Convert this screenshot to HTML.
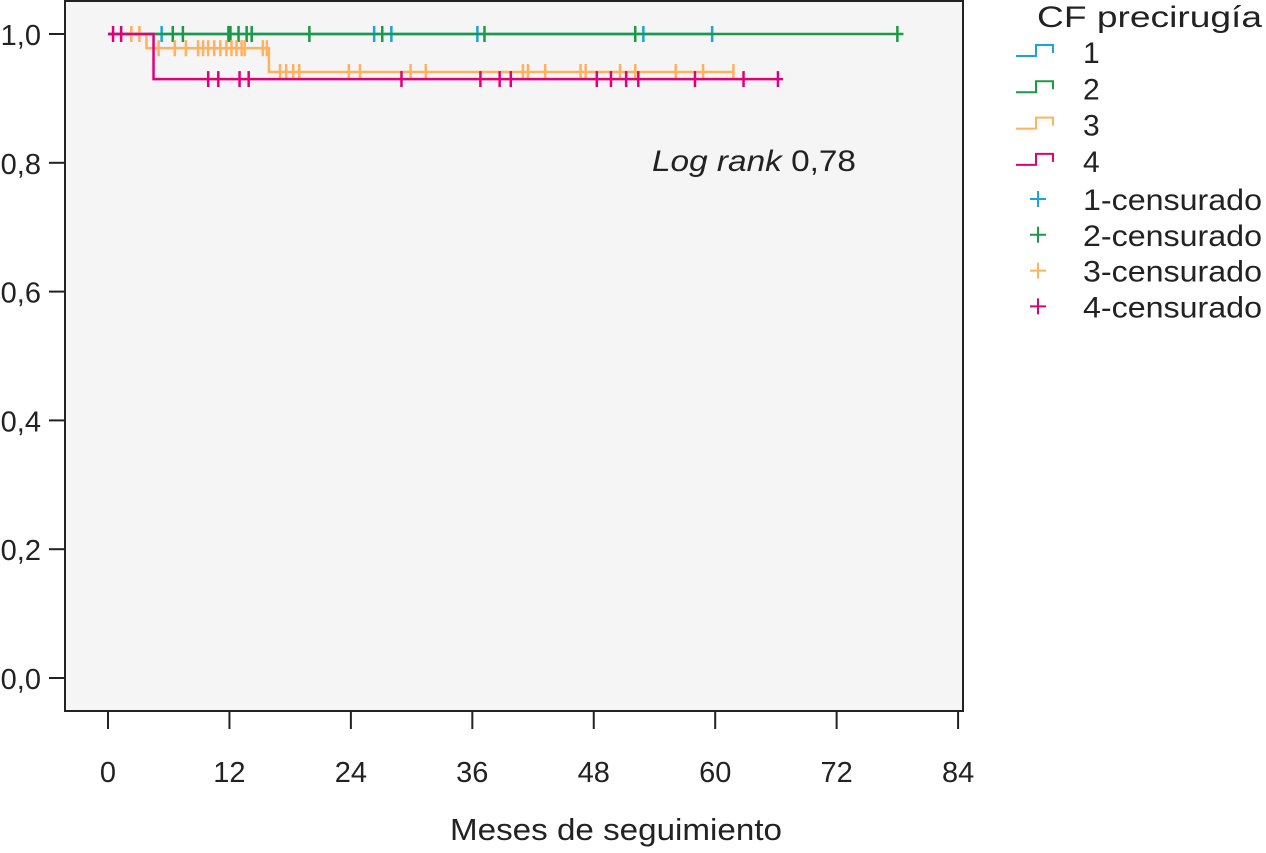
<!DOCTYPE html>
<html><head><meta charset="utf-8"><style>
body{margin:0;background:#fff;font-family:"Liberation Sans",sans-serif;}
svg text{font-family:"Liberation Sans",sans-serif;fill:#222;}
</style></head><body>
<svg id="c" width="1266" height="848">
<rect x="65" y="1" width="898" height="710" fill="#f5f5f5" stroke="#222" stroke-width="2"/>
<text x="652" y="171" font-size="30" textLength="204" lengthAdjust="spacingAndGlyphs"><tspan font-style="italic">Log rank</tspan> 0,78</text>
<text x="450" y="840" font-size="31" textLength="332" lengthAdjust="spacingAndGlyphs">Meses de seguimiento</text>
<g id="ax"></g><g id="series"></g><g id="legend"></g>
</svg>
<script>
const xTicks=[0,12,24,36,48,60,72,84];
const yTicks=[0,0.2,0.4,0.6,0.8,1.0];
const yLabels=["0,0","0,2","0,4","0,6","0,8","1,0"];
const groupNames=["1","2","3","4"];
const colors=["#1aa3e3","#1a9a45","#ffb15e","#e2007a"];
const steps1=[[0,1]]; const end1=59.7;
const steps2=[[0,1]]; const end2=78.6;
const steps3=[[2.0,1],[3.8,0.978],[15.9,0.941]]; const end3=61.8;
const steps4=[[0,1],[4.5,0.930]]; const end4=66.7;
const cens1=[5.3,26.3,28.0,36.5,52.9,59.7];
const cens2=[6.4,7.4,11.9,12.1,12.9,13.7,14.2,19.9,27.1,37.2,52.1,78.0];
const cens3=[2.3,3.1,5.0,6.6,7.7,8.9,9.4,9.9,10.5,11.1,11.7,12.2,12.7,13.2,13.5,15.3,15.7,17.0,17.6,18.3,18.9,23.8,24.9,29.9,31.4,41.0,41.5,43.2,46.7,47.2,50.6,52.1,56.1,58.8,61.8];
const cens4=[0.5,1.3,9.9,10.9,13.0,13.9,29.0,36.8,38.7,39.8,48.3,49.7,51.2,52.4,58.0,62.8,66.2];
const NS="http://www.w3.org/2000/svg";
const X=t=>108+t*10.12, Y=s=>678-644*s;
function mk(tag,at,par){const e=document.createElementNS(NS,tag);for(const k in at)e.setAttribute(k,at[k]);par.appendChild(e);return e;}
const ax=document.getElementById('ax');
xTicks.forEach(t=>{
 const l=mk('line',{x1:X(t),x2:X(t),y1:711,y2:729,stroke:'#222','stroke-width':2},ax);
 
 
 const tx=mk('text',{x:X(t),y:782,'font-size':29,'text-anchor':'middle'},ax);tx.textContent=t;
 
 
});
yTicks.forEach((v,i)=>{
 const l=mk('line',{x1:49,x2:65,y1:Y(v),y2:Y(v),stroke:'#222','stroke-width':2},ax);
 
 
 const tx=mk('text',{x:41,y:Y(v)+11,'font-size':29,'text-anchor':'end'},ax);tx.textContent=yLabels[i];
 
 
});
const sg=document.getElementById('series');
const S=[[steps1,end1,cens1],[steps2,end2,cens2],[steps3,end3,cens3],[steps4,end4,cens4]];
function survAt(st,t){let s=st[0][1];for(const p of st){if(p[0]<=t)s=p[1];}return s;}
S.forEach((g,i)=>{
 const [st,end,cens]=g;let d='M'+X(st[0][0])+','+Y(st[0][1]);
 for(let k=1;k<st.length;k++){d+=' H'+X(st[k][0])+' V'+Y(st[k][1]);}
 d+=' H'+X(end);
 const p=mk('path',{d:d,fill:'none',stroke:colors[i],'stroke-width':2.5},sg);
 
 
 cens.forEach(t=>{const y=Y(survAt(st,t));
  const c=mk('line',{x1:X(t),x2:X(t),y1:y-8,y2:y+8,stroke:colors[i],'stroke-width':2.5},sg);
  
  });
});
const lg=document.getElementById('legend');
const tt=mk('text',{x:1037,y:27,'font-size':30,textLength:225,lengthAdjust:'spacingAndGlyphs'},lg);tt.textContent='CF precirugía';


groupNames.forEach((n,i)=>{const y=52+i*36.3;
 const p=mk('path',{d:`M1016,${y+4} H1036 V${y-7} H1053 V${y+1}`,fill:'none',stroke:colors[i],'stroke-width':2},lg);
 
 
 const t=mk('text',{x:1083,y:y+11,'font-size':30},lg);t.textContent=n;
 
 
 const y2=199+i*35.8;
 const c=mk('path',{d:`M1030,${y2} H1046 M1038,${y2-8} V${y2+8}`,fill:'none',stroke:colors[i],'stroke-width':2},lg);
 
 
 const t2=mk('text',{x:1083,y:y2+11,'font-size':30,textLength:179,lengthAdjust:'spacingAndGlyphs'},lg);t2.textContent=n+'-censurado';
 
 
});
</script>
</body></html>
